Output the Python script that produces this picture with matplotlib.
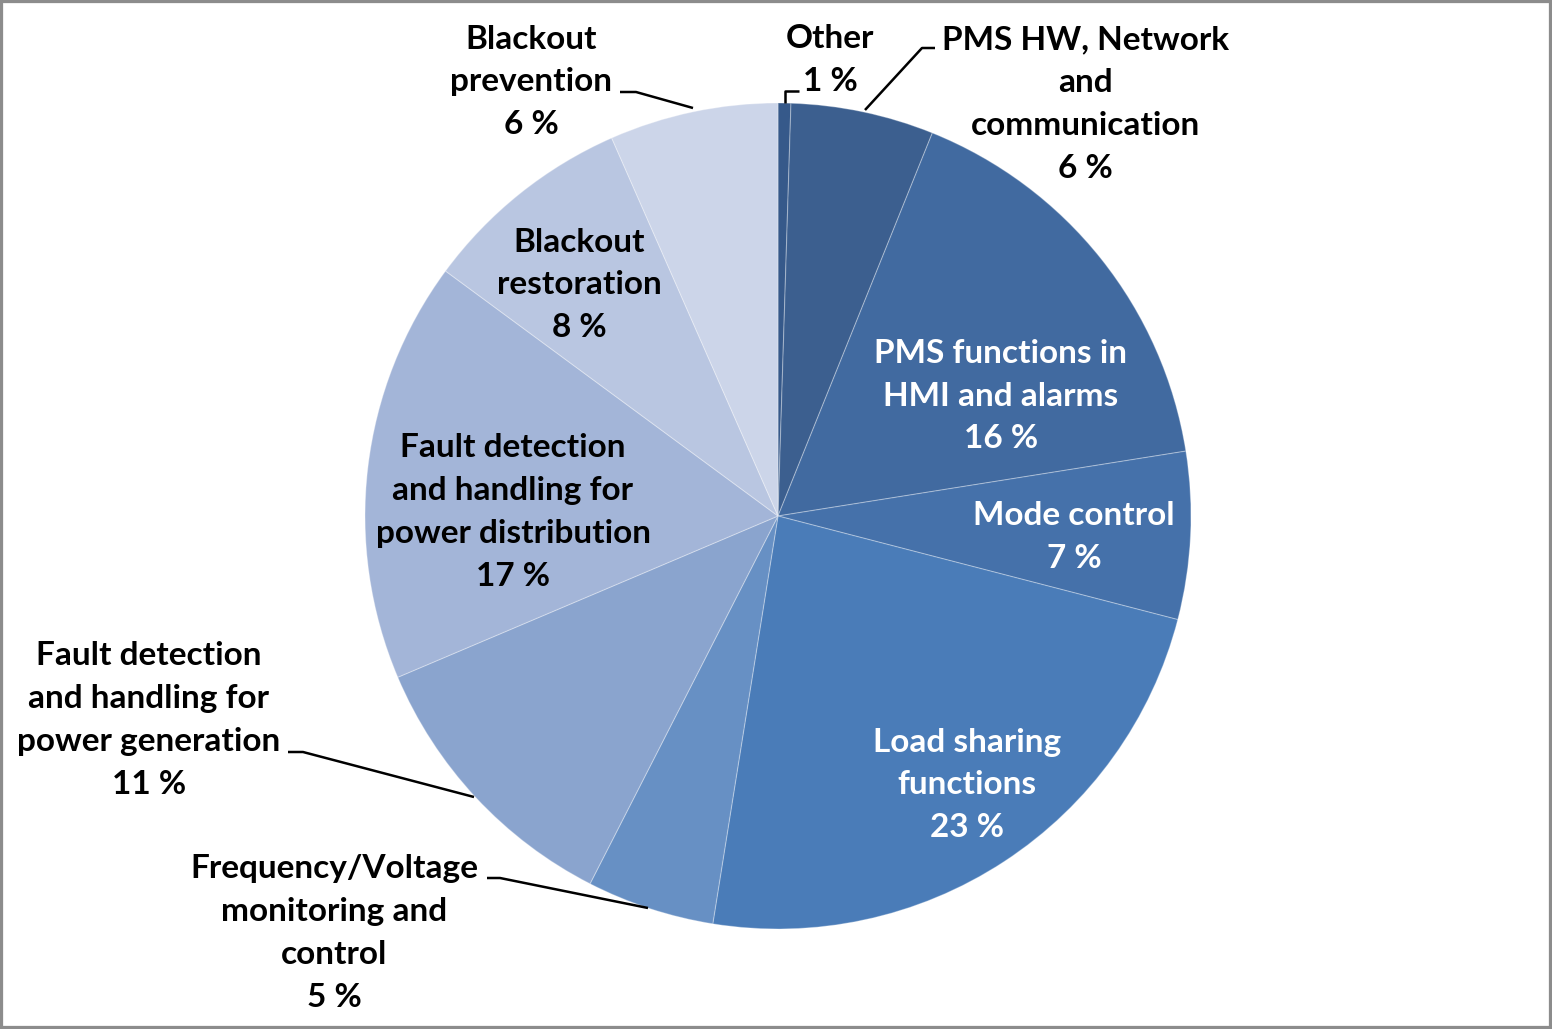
import matplotlib
matplotlib.use("Agg")
import matplotlib.pyplot as plt
from matplotlib.patches import Rectangle

categories = ["Other", "PMS HW, Network and communication", "PMS functions in HMI and alarms",
              "Mode control", "Load sharing functions", "Frequency/Voltage monitoring and control",
              "Fault detection and handling for power generation",
              "Fault detection and handling for power distribution",
              "Blackout restoration", "Blackout prevention"]
shares = [0.5, 5.6, 16.4, 6.55, 23.5, 5.0, 11.1, 16.5, 8.3, 6.6]
pct_labels = ["1 %", "6 %", "16 %", "7 %", "23 %", "5 %", "11 %", "17 %", "8 %", "6 %"]
colors = ["#36598a", "#3c5f8f", "#416aa0", "#4571aa", "#4a7cb8", "#6790c4",
          "#8aa4ce", "#a3b5d8", "#b9c6e1", "#ccd5e9"]

W, H = 1552, 1029
fig = plt.figure(figsize=(W / 100, H / 100), dpi=100)
ax = fig.add_axes([0, 0, 1, 1])
ax.set_xlim(0, W)
ax.set_ylim(0, H)
ax.set_aspect("equal")
ax.axis("off")

cx, cy, r = 778, H - 516, 413
ax.pie(shares, colors=colors, startangle=90, counterclock=False, center=(cx, cy), radius=r,
       wedgeprops=dict(linewidth=0.8, edgecolor=(1, 1, 1, 0.3)), frame=True)
ax.set_xlim(0, W)
ax.set_ylim(0, H)
ax.axis("off")

font = dict(family=["Lato", "DejaVu Sans"], fontweight="bold", fontsize=24, linespacing=1.58,
            ha="center", va="center")

def T(x, y, s, c="black"):
    ax.text(x, H - y, s, color=c, **font)

T(1001, 396, "PMS functions in\nHMI and alarms\n" + pct_labels[2], "white")
T(1074, 537, "Mode control\n" + pct_labels[3], "white")
T(967, 785, "Load sharing\nfunctions\n" + pct_labels[4], "white")
T(513, 512, "Fault detection\nand handling for\npower distribution\n" + pct_labels[7])
T(579, 285, "Blackout\nrestoration\n" + pct_labels[8])
T(531, 82, "Blackout\nprevention\n" + pct_labels[9])
T(830, 60, "Other\n" + pct_labels[0])
T(1085, 104, "PMS HW, Network\nand\ncommunication\n" + pct_labels[1])
T(149, 720, "Fault detection\nand handling for\npower generation\n" + pct_labels[6])
T(334, 933, "Frequency/Voltage\nmonitoring and\ncontrol\n" + pct_labels[5])

def leader(pts):
    xs = [p[0] for p in pts]
    ys = [H - p[1] for p in pts]
    ax.plot(xs, ys, color="black", lw=1.8, solid_capstyle="butt")

leader([(620, 92), (636, 92), (693, 108)])
leader([(799, 91), (785, 91), (785, 103)])
leader([(935, 48), (922, 48), (865, 110)])
leader([(288, 752), (303, 752), (474, 797)])
leader([(487, 878), (500, 878), (648, 908)])

fig.patches.append(Rectangle((0, 0), 1, 1, transform=fig.transFigure, fill=False,
                             lw=4.5, ec="#8c8c8c"))
fig.savefig("out.png", dpi=100)
